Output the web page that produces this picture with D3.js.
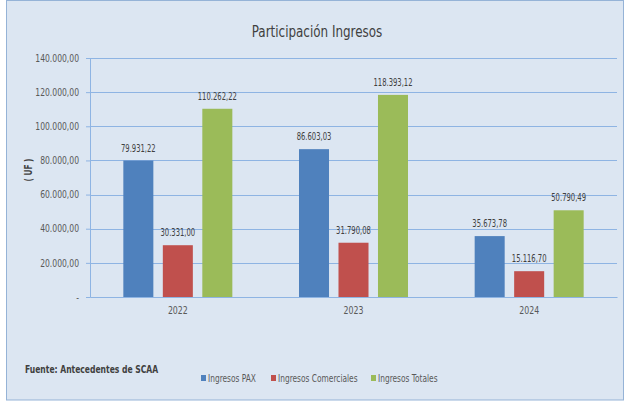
<!DOCTYPE html>
<html>
<head>
<meta charset="utf-8">
<script src="https://cdn.jsdelivr.net/npm/d3@7"></script>
<style>
  body { margin: 0; background: #fff; }
  text { font-family: "DejaVu Sans Condensed", "DejaVu Sans", sans-serif; }
</style>
</head>
<body>
<div id="chart-area"></div>
<script>
var years = ['2022', '2023', '2024'];
var seriesNames = ['Ingresos PAX', 'Ingresos Comerciales', 'Ingresos Totales'];
var ingresosPax = [79931.22, 86603.03, 35673.78];
var ingresosComerciales = [30331.00, 31790.08, 15116.70];
var ingresosTotales = [110262.22, 118393.12, 50790.49];
var yTicks = [0, 20000, 40000, 60000, 80000, 100000, 120000, 140000];
var colors = ['#4f81bd', '#c0504d', '#9bbb59'];

var W = 625, H = 407;
var margin = { left: 90, top: 58 };
var width = 617 - margin.left,
    height = 297 - margin.top;

// the source text is a narrow face, so squeeze text horizontally
function squeeze(sel, k) {
    sel.each(function() {
        var t = d3.select(this);
        var x = +t.attr('x') || 0;
        var y = +t.attr('y') || 0;
        t.attr('x', 0).attr('y', 0)
         .attr('transform', 'translate(' + x + ',' + y + ') scale(' + k + ',1)');
    });
}

var svg = d3.select('#chart-area')
    .append('svg')
    .attr('width', W)
    .attr('height', H);

// chart background and frame
svg.append('rect')
    .attr('x', 6.5).attr('y', 0.5)
    .attr('width', 617).attr('height', 399.5)
    .attr('fill', '#dce6f2')
    .attr('stroke', '#95b3d7')
    .attr('stroke-width', 1);

svg.append('text')
    .text('Participación Ingresos')
    .attr('x', 317)
    .attr('y', 37)
    .attr('text-anchor', 'middle')
    .attr('font-size', '16px')
    .attr('fill', '#404040')
    .call(squeeze, 0.83);

var g = svg.append('g')
    .attr('transform', 'translate(' + margin.left + ',' + margin.top + ')');

// number format: 79.931,22
var locale = d3.formatLocale({ decimal: ',', thousands: '.', grouping: [3], currency: ['', ''] });
var fmt = locale.format(',.2f');

var xScale = d3.scaleBand()
    .domain(years)
    .range([0, width]);

var groupW = 109;
var xInner = d3.scaleBand()
    .domain(seriesNames)
    .range([(xScale.bandwidth() - groupW) / 2, (xScale.bandwidth() + groupW) / 2])
    .paddingInner(0.24);

var yScale = d3.scaleLinear()
    .domain([0, 140000])
    .range([height, 0]);

// gridlines
g.selectAll('.grid')
    .data(yTicks.slice(1))
    .enter()
    .append('line')
    .attr('x1', 0).attr('x2', width)
    .attr('y1', function(d) { return Math.round(yScale(d)) + 0.5; })
    .attr('y2', function(d) { return Math.round(yScale(d)) + 0.5; })
    .attr('stroke', '#8eb4e3')
    .attr('stroke-width', 1);

var yAxisCall = d3.axisLeft(yScale)
    .tickValues(yTicks)
    .tickSize(4)
    .tickFormat(function(d) { return d === 0 ? '-' : fmt(d); });

var yAxis = g.append('g')
    .attr('class', 'y-axis')
    .call(yAxisCall);
yAxis.select('.domain').attr('stroke', '#8eb4e3');
yAxis.selectAll('line').attr('stroke', '#8eb4e3');
yAxis.selectAll('text')
    .attr('font-size', '10px')
    .attr('fill', '#595959')
    .attr('x', -11)
    .call(squeeze, 0.85);

var xAxisCall = d3.axisBottom(xScale).tickSize(0).tickPadding(10);
var xAxis = g.append('g')
    .attr('class', 'x-axis')
    .attr('transform', 'translate(0,' + height + ')')
    .call(xAxisCall);
xAxis.select('.domain').attr('stroke', '#8eb4e3');
xAxis.selectAll('text')
    .attr('font-size', '10px')
    .attr('fill', '#595959')
    .call(squeeze, 0.87);

svg.append('text')
    .text('( UF )')
    .attr('transform', 'translate(32,170) rotate(-90) scale(0.75,1)')
    .attr('text-anchor', 'middle')
    .attr('font-size', '11px')
    .attr('font-weight', 'bold')
    .attr('fill', '#404040');

var allSeries = [ingresosPax, ingresosComerciales, ingresosTotales];
var rows = [];
years.forEach(function(y, i) {
    allSeries.forEach(function(s, j) {
        rows.push({ year: y, name: seriesNames[j], value: s[i], color: colors[j] });
    });
});

g.selectAll('.bar')
    .data(rows)
    .enter()
    .append('rect')
    .attr('x', function(d) { return xScale(d.year) + xInner(d.name); })
    .attr('y', function(d) { return yScale(d.value); })
    .attr('width', xInner.bandwidth())
    .attr('height', function(d) { return height - yScale(d.value); })
    .attr('fill', function(d) { return d.color; });

g.selectAll('.label')
    .data(rows)
    .enter()
    .append('text')
    .text(function(d) { return fmt(d.value); })
    .attr('x', function(d) { return xScale(d.year) + xInner(d.name) + xInner.bandwidth() / 2; })
    .attr('y', function(d) { return yScale(d.value) - 9; })
    .attr('text-anchor', 'middle')
    .attr('font-size', '10px')
    .attr('fill', '#404040')
    .call(squeeze, 0.76);

svg.append('text')
    .text('Fuente: Antecedentes de SCAA')
    .attr('x', 25)
    .attr('y', 373)
    .attr('font-size', '11px')
    .attr('font-weight', 'bold')
    .attr('fill', '#404040')
    .call(squeeze, 0.77);

// legend
var legendX = [201, 271, 371];
var legend = svg.selectAll('.legend')
    .data(seriesNames)
    .enter()
    .append('g')
    .attr('transform', function(d, i) { return 'translate(' + legendX[i] + ',378)'; });
legend.append('rect')
    .attr('x', 0).attr('y', -3)
    .attr('width', 5).attr('height', 6)
    .attr('fill', function(d, i) { return colors[i]; });
legend.append('text')
    .text(function(d) { return d; })
    .attr('x', 7)
    .attr('y', 3.5)
    .attr('font-size', '10px')
    .attr('fill', '#595959')
    .call(squeeze, 0.83);
</script>
</body>
</html>
